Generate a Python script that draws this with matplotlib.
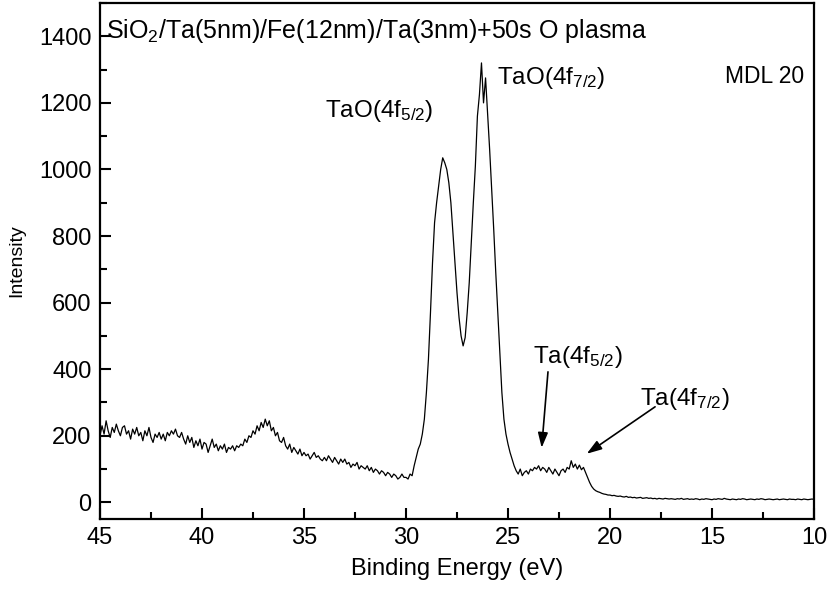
import numpy as np
import matplotlib
matplotlib.use("Agg")
import matplotlib.pyplot as plt
from matplotlib.ticker import MultipleLocator

plt.rcParams['font.family'] = ['Liberation Sans', 'DejaVu Sans']
plt.rcParams['mathtext.fontset'] = 'custom'
plt.rcParams['mathtext.rm'] = 'Liberation Sans'
plt.rcParams['mathtext.it'] = 'Liberation Sans'
plt.rcParams['mathtext.bf'] = 'Liberation Sans'

# Binding energy grid (45 -> 10 eV, 0.1 eV step)
energy = np.linspace(45.0, 10.0, 351)

# Intensity, 10 values per eV
intensity = [
    200, 230, 205, 245, 215, 195, 225, 210, 235, 215,   # 45.0-44.1
    200, 225, 230, 205, 215, 190, 220, 205, 225, 200,   # 44.0-43.1
    210, 185, 215, 200, 225, 195, 180, 205, 195, 210,   # 43.0-42.1
    190, 205, 185, 210, 200, 215, 205, 220, 200, 195,   # 42.0-41.1
    210, 190, 175, 200, 180, 195, 165, 185, 170, 190,   # 41.0-40.1
    160, 180, 175, 150, 170, 190, 165, 175, 155, 170,   # 40.0-39.1
    160, 175, 150, 165, 160, 170, 155, 170, 165, 175,   # 39.0-38.1
    170, 190, 180, 200, 195, 215, 205, 230, 215, 240,   # 38.0-37.1
    225, 250, 230, 245, 215, 225, 200, 210, 185, 180,   # 37.0-36.1
    195, 170, 160, 175, 150, 165, 155, 145, 160, 140,   # 36.0-35.1
    150, 140, 145, 130, 140, 150, 135, 140, 130, 125,   # 35.0-34.1
    135, 125, 140, 130, 120, 135, 125, 115, 130, 120,   # 34.0-33.1
    130, 115, 120, 105, 115, 110, 120, 100, 110, 105,   # 33.0-32.1
    100, 110, 95, 105, 90, 100, 95, 85, 95, 90,         # 32.0-31.1
    80, 90, 85, 75, 85, 80, 70, 75, 85, 75,             # 31.0-30.1
    75, 70, 85, 80, 110, 135, 160, 175, 205, 250,       # 30.0-29.1
    330, 430, 570, 720, 840, 900, 950, 1000, 1035, 1020, # 29.0-28.1
    1000, 960, 900, 810, 720, 630, 555, 500, 470, 495,  # 28.0-27.1
    570, 660, 780, 900, 1010, 1160, 1225, 1320, 1200, 1275,  # 27.0-26.1
    1170, 1060, 940, 820, 690, 570, 450, 330, 250, 205,  # 26.0-25.1
    175, 150, 130, 110, 95, 85, 100, 80, 90, 95,        # 25.0-24.1
    85, 100, 95, 105, 100, 110, 95, 105, 100, 90,       # 24.0-23.1
    105, 95, 85, 100, 90, 80, 95, 100, 90, 105,         # 23.0-22.1
    100, 125, 105, 115, 100, 112, 98, 105, 90, 75,      # 22.0-21.1
    60, 48, 40, 35, 32, 30, 27, 25, 24, 22,             # 21.0-20.1
    22, 20, 21, 19, 18, 19, 17, 16, 18, 15,             # 20.0-19.1
    16, 14, 15, 13, 14, 15, 12, 13, 14, 12,             # 19.0-18.1
    13, 11, 12, 10, 12, 11, 10, 12, 11, 10,             # 18.0-17.1
    11, 10, 9, 11, 10, 12, 9, 10, 11, 9,                # 17.0-16.1
    10, 9, 11, 10, 8, 10, 9, 11, 10, 9,                 # 16.0-15.1
    8, 10, 9, 11, 10, 9, 12, 10, 9, 8,                  # 15.0-14.1
    10, 9, 8, 10, 9, 11, 10, 8, 9, 10,                  # 14.0-13.1
    9, 8, 10, 9, 11, 10, 8, 9, 10, 9,                   # 13.0-12.1
    8, 9, 10, 8, 9, 10, 9, 8, 10, 9,                    # 12.0-11.1
    9, 8, 10, 9, 8, 10, 9, 8, 9, 10,                    # 11.0-10.1
    9,                                                  # 10.0
]

title_text = r'SiO$_2$/Ta(5nm)/Fe(12nm)/Ta(3nm)+50s O plasma'
sample_text = 'MDL 20'
peak_labels = [r'TaO(4f$_{5/2}$)', r'TaO(4f$_{7/2}$)']
metal_labels = [r'Ta(4f$_{5/2}$)', r'Ta(4f$_{7/2}$)']

fig = plt.figure(figsize=(8.29, 5.93), dpi=100)
ax = fig.add_axes([100/829, 74/593, 714/829, 516/593])

ax.plot(energy, intensity, color='black', lw=0.9)

ax.set_xlim(45, 10)
ax.set_ylim(-50, 1500)
ax.xaxis.set_major_locator(MultipleLocator(5))
ax.xaxis.set_minor_locator(MultipleLocator(2.5))
ax.yaxis.set_minor_locator(MultipleLocator(100))
ax.set_yticks(np.arange(0, 1401, 200))
ax.tick_params(which='both', direction='in', top=False, right=False, width=1.5, labelsize=17)
ax.tick_params(which='major', length=8, pad=6)
ax.tick_params(which='minor', length=5)
for s in ax.spines.values():
    s.set_linewidth(1.6)

ax.set_xlabel('Binding Energy (eV)', fontsize=17, labelpad=6)
ax.set_ylabel('Intensity', fontsize=14, labelpad=10)

fs = 17.5
ax.text(44.7, 1395, title_text, fontsize=18, va='baseline', ha='left')
ax.text(14.36, 1259, sample_text, fontsize=16.5, va='baseline', ha='left')
ax.text(33.97, 1157, peak_labels[0], fontsize=fs, va='baseline', ha='left')
ax.text(25.54, 1256, peak_labels[1], fontsize=fs, va='baseline', ha='left')
ax.text(23.77, 419, metal_labels[0], fontsize=fs, va='baseline', ha='left')
ax.text(18.53, 293, metal_labels[1], fontsize=fs, va='baseline', ha='left')

arrow_kw = dict(arrowstyle='-|>,head_length=0.9,head_width=0.3', color='black', lw=1.2,
                shrinkA=0, shrinkB=0)
ax.annotate('', xy=(23.35, 164), xytext=(23.04, 392), arrowprops=arrow_kw)
ax.annotate('', xy=(21.14, 146), xytext=(17.79, 287), arrowprops=arrow_kw)

fig.savefig('out.png', dpi=100)
